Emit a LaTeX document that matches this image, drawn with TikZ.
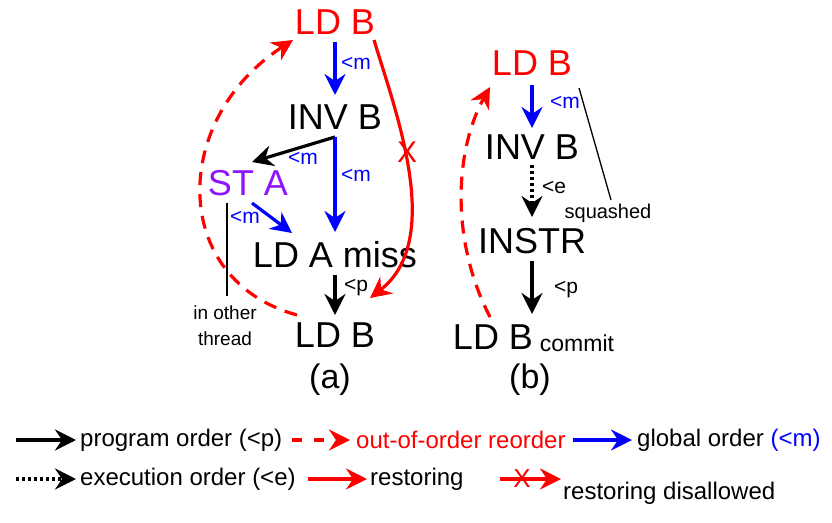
\documentclass[tikz,border=0pt]{standalone}
\usepackage{fontspec}
\setmainfont{Liberation Sans}
\usetikzlibrary{arrows.meta}
\definecolor{pur}{RGB}{140,20,255}
\begin{document}
\begin{tikzpicture}[x=1pt,y=-1pt,
  big/.style={font=\fontsize{36}{40}\selectfont, inner sep=0pt},
  lbl/.style={font=\fontsize{21}{24}\selectfont, inner sep=0pt},
  leg/.style={font=\fontsize{24}{26}\selectfont, inner sep=0pt, anchor=west},
  tip/.style={-{Stealth[length=21pt,width=21pt,inset=7pt]}},
  arr/.style={tip, line width=3.2pt},
  rd/.style={tip,red,line width=3.2pt,dash pattern=on 13pt off 9pt},
  thin/.style={line width=1.3pt}]
\useasboundingbox (0,0) rectangle (832,522);
% (a)
\node[big,red] (ta) at (335,22) {LD B};
\node[big] (inva) at (335,117) {INV B};
\node[big,text=pur] (sta) at (248,183) {ST A};
\node[big] (lda) at (335,255) {LD A miss};
\node[big] (ba) at (335,335) {LD B};
\node[font=\fontsize{34}{38}\selectfont] (la) at (330,380) {(a)};
\draw[arr,blue] (335,42) -- (335,95);
\node[lbl,blue] (m1) at (356,63) {<m};
\draw[arr] (335,137) -- (252,162);
\node[lbl,blue] (m2) at (303,158) {<m};
\draw[arr,blue] (335,137) -- (335,232);
\node[lbl,blue] (m3) at (356,175) {<m};
\draw[arr,blue] (252,203) -- (292,233);
\node[lbl,blue] (m4) at (245,217) {<m};
\draw[arr] (335,275) -- (335,315);
\node[lbl] (p1) at (356,288) {<p};
\coordinate (rs) at (374,40);
\coordinate (re) at (370,298);
\draw[tip,red,line width=3.2pt] (rs) .. controls (395,110) and (445,240) .. (re);
\node[red,font=\fontsize{30}{32}\selectfont] (x1) at (407,152) {X};
\coordinate (ds) at (297,315);
\coordinate (de) at (293,40);
\draw[rd] (ds) .. controls (170,280) and (170,120) .. (de);
\coordinate (t1) at (227,203);
\coordinate (t2) at (227,296);
\draw[thin] (t1) -- (t2);
\node[font=\fontsize{19}{26}\selectfont, align=center] (oth) at (225,326) {in other\\thread};
% (b)
\node[big,red] (tb) at (532,63) {LD B};
\node[big] (invb) at (532,147) {INV B};
\node[big] (instr) at (532,241) {INSTR};
\node[big] (bb) at (493,337) {LD B};
\node[font=\fontsize{23}{25}\selectfont,inner sep=0pt] (cm) at (577,343) {commit};
\node[font=\fontsize{34}{38}\selectfont] (lb) at (530,380) {(b)};
\draw[arr,blue] (532,85) -- (532,128);
\node[lbl,blue] (m5) at (565,102) {<m};
\draw[tip,line width=3.2pt,dash pattern=on 3pt off 3pt] (532,165) -- (532,217);
\node[lbl] (e1) at (554,187) {<e};
\draw[arr] (532,261) -- (532,314);
\node[lbl] (p2) at (566,290) {<p};
\coordinate (bs) at (490,317);
\coordinate (be) at (490,87);
\draw[rd] (bs) .. controls (450,240) and (455,150) .. (be);
\coordinate (s1) at (579,88);
\coordinate (s2) at (611,200);
\draw[thin] (s1) -- (s2);
\node[font=\fontsize{20}{22}\selectfont,inner sep=0pt] (sq) at (608,213) {squashed};
% legend
\coordinate (a1) at (16,440); \coordinate (a2) at (76,440);
\draw[arr] (a1) -- (a2);
\node[leg] (l1) at (80,440) {program order (<p)};
\coordinate (b1) at (292,440); \coordinate (b2) at (350,440);
\draw[tip,red,line width=3.2pt,dash pattern=on 10pt off 12pt] (b1) -- (b2);
\node[leg,red] (l2) at (356,440) {out-of-order reorder};
\coordinate (c1) at (573,440); \coordinate (c2) at (632,440);
\draw[arr,blue] (c1) -- (c2);
\node[leg] (l3) at (637,440) {global order \textcolor{blue}{(<m)}};
\coordinate (d1) at (16,479); \coordinate (d2) at (76,479);
\draw[tip,line width=3.2pt,dash pattern=on 3pt off 3pt] (d1) -- (d2);
\node[leg] (l4) at (80,479) {execution order (<e)};
\coordinate (e1c) at (308,479); \coordinate (e2c) at (367,479);
\draw[arr,red] (e1c) -- (e2c);
\node[leg] (l5) at (370,479) {restoring};
\coordinate (f1) at (500,479); \coordinate (f2) at (561,479);
\draw[arr,red] (f1) -- (f2);
\node[red,font=\fontsize{26}{28}\selectfont,inner sep=0pt] (x2) at (522,479) {X};
\node[leg] (l6) at (563,493) {restoring disallowed};
\end{tikzpicture}
\end{document}
